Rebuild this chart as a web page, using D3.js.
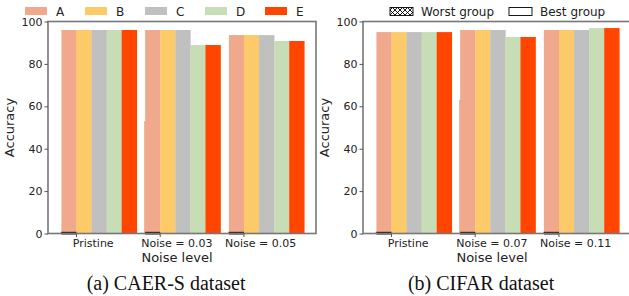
<!DOCTYPE html>
<html>
<head>
<meta charset="utf-8">
<script src="https://cdn.jsdelivr.net/npm/d3@7"></script>
<style>
body { margin: 0; background: #fff; }
svg { display: block; }
text { font-family: "DejaVu Sans", sans-serif; fill: #222; }
.caption { font-family: "Liberation Serif", "Times New Roman", serif; font-size: 20px; fill: #111; }
</style>
</head>
<body>
<div id="plot"></div>
<script>
var width = 629, height = 296;

// data
var methods = ["A", "B", "C", "D", "E"];
var colors = ["#f0a98c", "#fdca6a", "#c0c0c0", "#c7ddb6", "#ff4500"];
var caerLevels = ["Pristine", "Noise = 0.03", "Noise = 0.05"];
var cifarLevels = ["Pristine", "Noise = 0.07", "Noise = 0.11"];
// rows = noise level, cols = method
var caerValues = [
  [96.0, 96.0, 96.0, 96.0, 96.0],
  [96.0, 96.0, 96.0, 88.9, 88.9],
  [93.6, 93.6, 93.6, 90.8, 90.8]
];
var cifarValues = [
  [95.0, 95.0, 95.0, 95.0, 95.0],
  [96.0, 96.0, 96.0, 92.7, 92.7],
  [96.0, 96.0, 96.0, 96.9, 96.9]
];
// worst-group bars, mostly hidden behind the best-group bars
var caerWorst = [0.8, 53, 0.8];
var cifarWorst = [0.8, 63, 0.8];
var yTicks = [0, 20, 40, 60, 80, 100];

var svg = d3.select("#plot").append("svg")
  .attr("width", width).attr("height", height);

var defs = svg.append("defs");
var pat = defs.append("pattern").attr("id", "xhatch")
  .attr("patternUnits", "userSpaceOnUse").attr("width", 5).attr("height", 5);
pat.append("path").attr("d", "M0,0L5,5M5,0L0,5").attr("stroke", "#000").attr("stroke-width", 0.9);

var barW = 0.18;

function panel(left, right, levels, values, worst, caption) {
  var g = svg.append("g");
  var x = d3.scaleLinear().domain([-0.61, 2.59]).range([left, right]);
  var y = d3.scaleLinear().domain([0, 100]).range([233.5, 21.5]);

  // worst group (hidden behind)
  g.selectAll("rect.worst").data(worst).enter().append("rect")
    .attr("x", function(d, i) { return x(i - 2.5 * barW) - 1; })
    .attr("width", x(barW) - x(0))
    .attr("y", function(d) { return y(d); })
    .attr("height", function(d) { return y(0) - y(d); })
    .attr("fill", colors[0]);

  levels.forEach(function(lv, i) {
    g.selectAll("rect.b" + i).data(values[i]).enter().append("rect")
      .attr("x", function(d, j) { return x(i + (j - 2.5) * barW); })
      .attr("width", x(barW) - x(0) + 0.3)
      .attr("y", function(d) { return y(d); })
      .attr("height", function(d) { return y(0) - y(d); })
      .attr("fill", function(d, j) { return colors[j]; });
  });

  // dark bottom marks of the worst group
  g.selectAll("rect.floor").data(worst).enter().append("rect")
    .attr("x", function(d, i) { return x(i - 2.5 * barW); })
    .attr("width", x(barW) - x(0))
    .attr("y", y(0.8))
    .attr("height", y(0) - y(0.8) + 1)
    .attr("fill", "#1a1a1a");

  // frame
  g.append("rect").attr("x", left).attr("y", y(100))
    .attr("width", right - left).attr("height", y(0) - y(100))
    .attr("fill", "none").attr("stroke", "#777").attr("stroke-width", 1.6);

  var yAxis = d3.axisLeft(y).tickValues(yTicks).tickSize(3.5).tickPadding(2);
  var ya = g.append("g").attr("transform", "translate(" + left + ",0)").call(yAxis);
  ya.select(".domain").remove();
  ya.selectAll("line").attr("stroke", "#555").attr("stroke-width", 1);
  ya.selectAll("text").style("font-size", "11px").attr("fill", "#222");

  // x ticks at the A/B boundary, labels slightly left of group centre
  levels.forEach(function(lv, i) {
    g.append("line")
      .attr("x1", x(i - 1.5 * barW)).attr("x2", x(i - 1.5 * barW))
      .attr("y1", y(0)).attr("y2", y(0) + 3.5)
      .attr("stroke", "#555");
    g.append("text").attr("x", x(i - 0.07)).attr("y", 247)
      .attr("text-anchor", "middle").style("font-size", "11px").text(lv);
  });

  g.append("text").attr("x", x(1) - 0.07 * (x(1) - x(0))).attr("y", 262)
    .attr("text-anchor", "middle").style("font-size", "13px").text("Noise level");
  g.append("text")
    .attr("transform", "translate(" + (left - 34) + "," + ((y(0) + y(100)) / 2) + ") rotate(-90)")
    .attr("text-anchor", "middle").style("font-size", "13px").text("Accuracy");
  g.append("text").attr("class", "caption")
    .attr("x", x(1) - 0.2 * (x(1) - x(0))).attr("y", 290)
    .attr("text-anchor", "middle").text(caption);
}

panel(48, 316, caerLevels, caerValues, caerWorst, "(a) CAER-S dataset");
panel(363, 631, cifarLevels, cifarValues, cifarWorst, "(b) CIFAR dataset");

// legend of methods (left)
var leg = svg.append("g");
methods.forEach(function(m, i) {
  var lx = 25 + i * 60;
  leg.append("rect").attr("x", lx).attr("y", 7).attr("width", 22).attr("height", 8)
    .attr("fill", colors[i]);
  leg.append("text").attr("x", lx + 31).attr("y", 15.5).style("font-size", "12px").text(m);
});

// legend of groups (right)
var groups = ["Worst group", "Best group"];
groups.forEach(function(gname, i) {
  var lx = i === 0 ? 390 : 509;
  leg.append("rect").attr("x", lx).attr("y", 7.5).attr("width", 23).attr("height", 8)
    .attr("fill", i === 0 ? "url(#xhatch)" : "#fff")
    .attr("stroke", "#000").attr("stroke-width", 0.9);
  leg.append("text").attr("x", lx + 31).attr("y", 15.5).style("font-size", "12px").text(gname);
});
</script>
</body>
</html>
